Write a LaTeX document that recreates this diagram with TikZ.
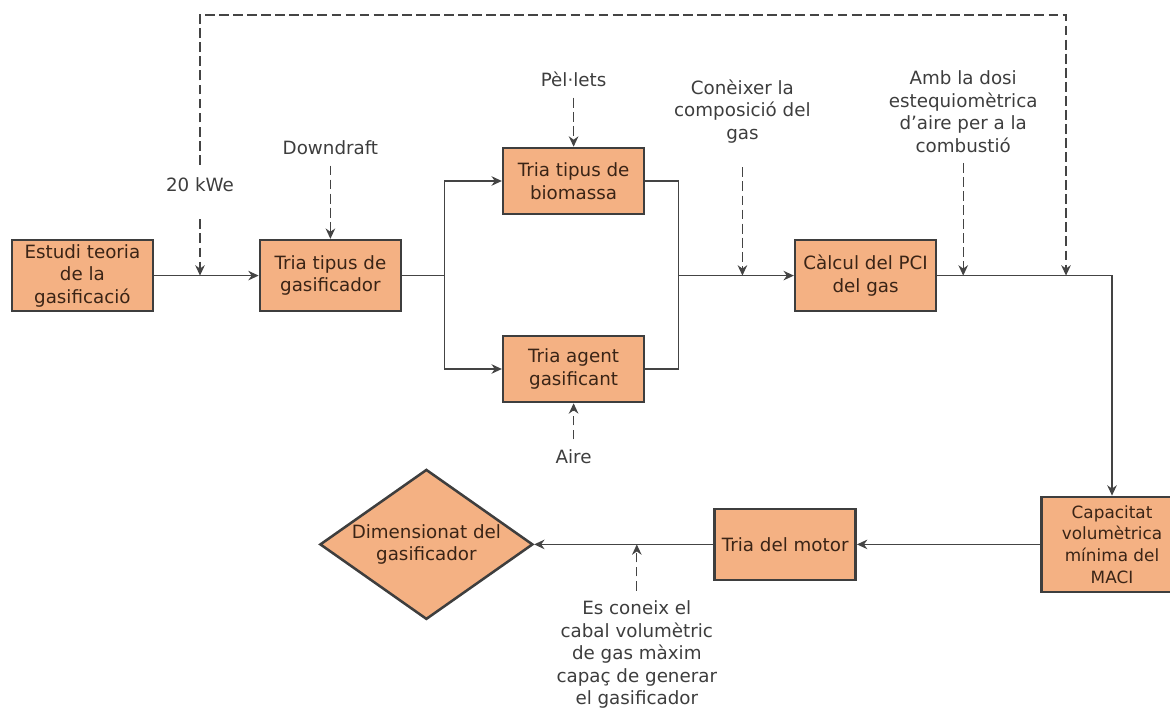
\documentclass[tikz,border=0pt]{standalone}
\usepackage{fontspec}
\setmainfont{DejaVu Sans}
\usepackage{xcolor}
\usetikzlibrary{shapes.geometric, arrows.meta, positioning}

\definecolor{boxfill}{RGB}{244,177,131}
\definecolor{boxline}{RGB}{62,62,62}
\definecolor{boxtext}{RGB}{58,36,22}
\definecolor{wire}{RGB}{68,68,68}

\begin{document}
\begin{tikzpicture}[
        ->,>={Stealth[length=2.6mm,width=2.4mm]},
        color=wire,
        line width=0.9pt,
        font=\fontsize{13}{16}\selectfont,
        stepbox/.style = {
            rectangle,
            draw=boxline,
            line width=1.8pt,
            fill=boxfill,
            text=boxtext,
            align=center,
            minimum width=3.525cm,
            minimum height=1.775cm,
            inner sep=1pt
        },
        decision/.style = {
            stepbox,
            diamond,
            aspect=1.42,
            minimum width=5.325cm,
            minimum height=3.75cm,
            inner sep=0pt
        },
        note/.style = {
            align=center,
            text=wire!90!black,
            inner sep=3pt
        },
        hint/.style = {
            dash pattern=on 7pt off 3pt,
            shorten <=4pt
        },
        on grid
    ]
        \useasboundingbox (0,0) rectangle (29.25,-17.7);

        % main chain
        \node [stepbox] (estudi) at (2.06,-6.89) {Estudi teoria\\de la\\gasificació};
        \node [stepbox] (gasif) [right=6.2cm of estudi] {Tria tipus de\\gasificador};
        \node [stepbox, minimum height=1.65cm] (biomassa) [above right=2.365cm and 6.08cm of gasif] {Tria tipus de\\biomassa};
        \node [stepbox, minimum height=1.65cm] (agent) [below=4.7cm of biomassa] {Tria agent\\gasificant};
        \node [stepbox] (pci) [right=13.38cm of gasif] {Càlcul del PCI\\del gas};
        \node [stepbox, minimum height=2.375cm, font=\fontsize{12}{15.4}\selectfont] (capacitat) [below right=6.72cm and 6.16cm of pci] {Capacitat\\volumètrica\\mínima del\\MACI};
        \node [stepbox] (motor) [left=8.17cm of capacitat] {Tria del motor};
        \node [decision] (dimens) [left=8.97cm of motor] {Dimensionat del\\gasificador};

        % inputs
        \node [note] (twenty) at (5.0,-4.625) {20 kWe};
        \node [note] (downdraft) [above=3.19cm of gasif] {Downdraft};
        \node [note] (pellets) [above=2.53cm of biomassa] {Pèl·lets};
        \node [note] (aire) [below=2.2cm of agent] {Aire};
        \node [note] (conexer) [above left=4.11cm and 3.08cm of pci] {Conèixer la\\composició del\\gas};
        \node [note] (dosi) [above right=4.1cm and 2.44cm of pci] {Amb la dosi\\estequiomètrica\\d’aire per a la\\combustió};
        \node [note] (coneix) [below left=2.76cm and 3.71cm of motor] {Es coneix el\\cabal volumètric\\de gas màxim\\capaç de generar\\el gasificador};

        \path (gasif.east) ++(1.05,0) coordinate (split);
        \path (pci.west) ++(-2.875,0) coordinate (merge);
        \coordinate (ret) at (26.65,-0.375);

        \draw (estudi) -- (gasif);
        \draw[-] (gasif) -- (split);
        \draw (split) |- (biomassa);
        \draw (split) |- (agent);
        \draw[-] (biomassa) -| (merge);
        \draw[-] (agent) -| (merge);
        \draw (merge) -- (pci);
        \draw (pci) -| (capacitat);
        \draw (capacitat) -- (motor);
        \draw (motor) -- (dimens);

        \draw[hint] (downdraft) -- (gasif);
        \draw[hint] (pellets) -- (biomassa);
        \draw[hint] (aire) -- (agent);
        \draw[hint, shorten <=14pt] (conexer) -- (conexer |- pci);
        \draw[hint] (dosi) -- (dosi |- pci);
        \draw[hint] (coneix) -- (coneix |- motor);
        \draw[hint, shorten <=16pt] (twenty) -- (twenty |- estudi);
        \draw[hint, shorten <=6pt] (twenty) |- (ret) -- (ret |- pci);
    \end{tikzpicture}
\end{document}
